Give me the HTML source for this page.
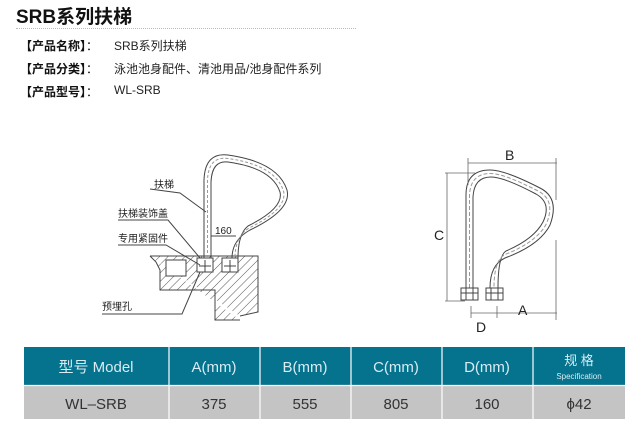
<!DOCTYPE html>
<html><head><meta charset="utf-8"><style>
body{margin:0;width:630px;height:436px;background:#fff;position:relative;overflow:hidden;font-family:"Liberation Sans","Noto Sans CJK SC",sans-serif}
.t{position:absolute;white-space:nowrap}
</style></head><body>
<div class="t" style="left:16px;top:2px;font-size:19px;font-weight:bold;color:#111">SRB系列扶梯</div>
<div style="position:absolute;left:16px;top:28px;width:340px;border-top:1px dotted #bbb"></div>
<div class="t" style="left:20px;top:37px;font-size:12px;color:#111"><b>【产品名称】</b>：</div>
<div class="t" style="left:114px;top:37px;font-size:12px;color:#222">SRB系列扶梯</div>
<div class="t" style="left:20px;top:60px;font-size:12px;color:#111"><b>【产品分类】</b>：</div>
<div class="t" style="left:114px;top:60px;font-size:12px;color:#222">泳池池身配件、清池用品/池身配件系列</div>
<div class="t" style="left:20px;top:83px;font-size:12px;color:#111"><b>【产品型号】</b>：</div>
<div class="t" style="left:114px;top:83px;font-size:12px;color:#222">WL-SRB</div>

<svg width="630" height="436" style="position:absolute;left:0;top:0" xmlns="http://www.w3.org/2000/svg">
<defs><pattern id="h" width="6" height="6" patternUnits="userSpaceOnUse" patternTransform="rotate(45)"><line x1="0" y1="0" x2="0" y2="6" stroke="#444" stroke-width="0.9"/></pattern></defs>
<g fill="none" stroke="#444" stroke-width="1">
<path d="M150 256 L258 256 L258 312 L240 316 M150 256 L156 262 L160 270 L160 290 L215 290 L215 320 L240 320" fill="url(#h)"/>
<rect x="166" y="260" width="20" height="16" fill="#fff"/>
<rect x="197" y="258" width="16" height="14" fill="#fff"/>
<rect x="222" y="258" width="16" height="14" fill="#fff"/>
<line x1="199" y1="266" x2="211" y2="266"/><line x1="205" y1="260" x2="205" y2="272"/>
<line x1="224" y1="266" x2="236" y2="266"/><line x1="230" y1="260" x2="230" y2="272"/>
<path d="M204 258 L204 180 Q205 152 228 155 Q278 162 287 190 Q292 210 250 230 Q232 240 232 258"/>
<path d="M211 258 L211 182 Q212 160 228 162 Q272 168 280 192 Q284 208 248 226 Q238 234 238 258"/>
<path d="M207.5 258 L207.5 181 Q208 156 228 158.5 Q275 165 283.5 191 Q288 209 249 228 Q235 237 235 258" stroke-dasharray="3 2" stroke="#999"/>
<polyline points="150,189 180,193 206,212"/>
<polyline points="118,220 168,220 200,258"/>
<polyline points="118,245 166,245 200,265"/>
<polyline points="102,314 182,314 200,272"/>
<line x1="211" y1="236" x2="236" y2="236"/>
<path d="M466 288 L466 195 Q466 170 490 170 Q505 170 540 188 Q560 198 550 225 Q540 245 505 258 Q490 265 490 288"/>
<path d="M473 288 L473 197 Q474 177 491 177 Q504 177 536 194 Q552 203 543 222 Q534 239 506 251 Q498 256 498 288"/>
<path d="M469.5 288 L469.5 196 Q470 173.5 490.5 173.5 Q504 173.5 538 191 Q556 200 546.5 223.5 Q537 242 505 254.5 Q494 260 494 288" stroke-dasharray="4 2" stroke="#999"/>
<rect x="461" y="288" width="17" height="12"/><line x1="461" y1="293" x2="478" y2="293"/><line x1="466" y1="288" x2="466" y2="300"/><line x1="473" y1="288" x2="473" y2="300"/>
<rect x="486" y="288" width="17" height="12"/><line x1="486" y1="293" x2="503" y2="293"/><line x1="491" y1="288" x2="491" y2="300"/><line x1="498" y1="288" x2="498" y2="300"/>
<g stroke="#666" stroke-width="0.8">
<line x1="468" y1="163" x2="557" y2="163"/><line x1="468" y1="158" x2="468" y2="185"/><line x1="556" y1="158" x2="556" y2="200"/>
<line x1="556" y1="240" x2="556" y2="320"/>
<line x1="447" y1="173" x2="447" y2="301"/><line x1="445" y1="173" x2="475" y2="173"/><line x1="445" y1="301" x2="465" y2="301"/>
<line x1="471" y1="313" x2="557" y2="313"/><line x1="471" y1="306" x2="471" y2="318"/><line x1="497" y1="306" x2="497" y2="318"/>
</g>
</g>
<g font-family="Liberation Sans,Noto Sans CJK SC,sans-serif" fill="#222">
<text x="154" y="188" font-size="10" font-family="Noto Sans CJK SC,sans-serif">扶梯</text>
<text x="118" y="217" font-size="10" font-family="Noto Sans CJK SC,sans-serif">扶梯装饰盖</text>
<text x="118" y="242" font-size="10" font-family="Noto Sans CJK SC,sans-serif">专用紧固件</text>
<text x="102" y="310" font-size="10" font-family="Noto Sans CJK SC,sans-serif">预埋孔</text>
<text x="215" y="234" font-size="10">160</text>
<text x="505" y="160" font-size="14">B</text>
<text x="434" y="240" font-size="14">C</text>
<text x="476" y="332" font-size="14">D</text>
<text x="518" y="315" font-size="14">A</text>
</g>
<rect x="24" y="347" width="601" height="38" fill="#05728e"/>
<rect x="24" y="386" width="601" height="33" fill="#c4c4c4"/>
<g stroke="#fff" stroke-width="1.2">
<line x1="24" y1="385.5" x2="625" y2="385.5"/>
<line x1="169" y1="347" x2="169" y2="419"/><line x1="260" y1="347" x2="260" y2="419"/><line x1="351" y1="347" x2="351" y2="419"/><line x1="442" y1="347" x2="442" y2="419"/><line x1="533" y1="347" x2="533" y2="419"/>
</g>
<g font-family="Liberation Sans,Noto Sans CJK SC,sans-serif" text-anchor="middle" font-size="15" fill="#d8ecf2">
<text x="96" y="372">型号 Model</text><text x="214" y="372">A(mm)</text><text x="305" y="372">B(mm)</text><text x="396" y="372">C(mm)</text><text x="487" y="372">D(mm)</text>
<text x="579" y="365" font-size="13">规 格</text><text x="579" y="379" font-size="8">Specification</text>
</g>
<g font-family="Liberation Sans,sans-serif" text-anchor="middle" font-size="15" fill="#333">
<text x="96" y="409">WL–SRB</text><text x="214" y="409">375</text><text x="305" y="409">555</text><text x="396" y="409">805</text><text x="487" y="409">160</text><text x="579" y="409">ϕ42</text>
</g>
</svg>
</body></html>
